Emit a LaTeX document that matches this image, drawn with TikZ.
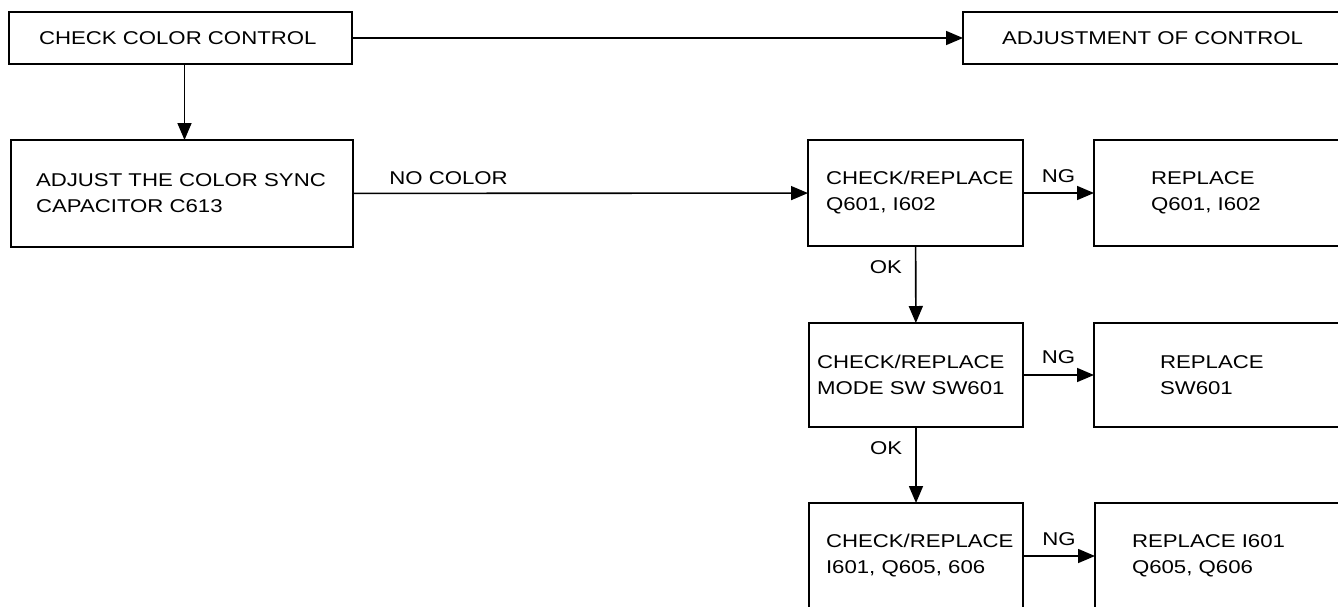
\documentclass[tikz,border=0pt]{standalone}
\usepackage{fontspec}
\setmainfont{Liberation Sans}[FakeStretch=1.2]
\usetikzlibrary{positioning, arrows.meta}

\begin{document}
\begin{tikzpicture}[
    x=1pt, y=-1pt,
    font=\fontsize{18.5}{26}\selectfont,
       box/.style = {draw, line width=1.8pt, anchor=north west, align=left,
                     inner ysep=0pt, outer sep=0pt},% boxes of the chart
       arr/.style = {line width=1.6pt, -{Triangle[length=17pt, width=14pt]}},% connectors
       lbl/.style = {inner sep=2pt}% labels on connectors
    ]
    \useasboundingbox (0,0) rectangle (1338,606);
    \clip (0,0) rectangle (1338,606);
    % left column
    \node (color) [box, text width=283pt, inner xsep=30pt, minimum height=52pt] at (9,12) {CHECK COLOR CONTROL};
    \node (adjctl) [box, text width=322pt, inner xsep=39pt, minimum height=52pt] at (963,12) {ADJUSTMENT OF CONTROL};
    \node (sync) [box, text width=292pt, inner xsep=25pt, minimum height=107pt] at (11,140) {ADJUST THE COLOR SYNC\\CAPACITOR C613};
    % check column
    \node (chk1) [box, text width=179pt, inner xsep=18pt, minimum height=106pt] at (808,140) {CHECK/REPLACE\\Q601, I602};
    \node (chk2) [box, text width=198pt, inner xsep=8pt, minimum height=104pt] at (809,323) {CHECK/REPLACE\\MODE SW SW601};
    \node (chk3) [box, text width=180pt, inner xsep=17pt, minimum height=106pt] at (809,503) {CHECK/REPLACE\\I601, Q605, 606};
    % replace column
    \node (rep1) [box, text width=156pt, inner xsep=57pt, minimum height=106pt] at (1094,140) {REPLACE\\Q601, I602};
    \node (rep2) [box, text width=138pt, inner xsep=66pt, minimum height=104pt] at (1094,323) {REPLACE\\SW601};
    \node (rep3) [box, text width=196pt, inner xsep=37pt, minimum height=106pt] at (1095,503) {REPLACE I601\\Q605, Q606};
    % connectors
    \draw[arr] (color) -- (adjctl);
    \draw[arr] ([xshift=4pt]color.south) -- ([xshift=4pt]color.south |- sync.north);
    \draw[arr] (sync) -- node[lbl, pos=0.21, above=6pt] {NO COLOR} (chk1);
    \draw[arr] (chk1) -- node[lbl, above=8pt] {NG} (rep1);
    \draw[arr] (chk2) -- node[lbl, above=9pt] {NG} (rep2);
    \draw[arr] (chk3) -- node[lbl, above=8pt] {NG} (rep3);
    \draw[arr] (chk1) -- node[lbl, pos=0.28, left=11pt] {OK} (chk2);
    \draw[arr] (chk2) -- node[lbl, pos=0.28, left=11pt] {OK} (chk3);
\end{tikzpicture}
\end{document}
